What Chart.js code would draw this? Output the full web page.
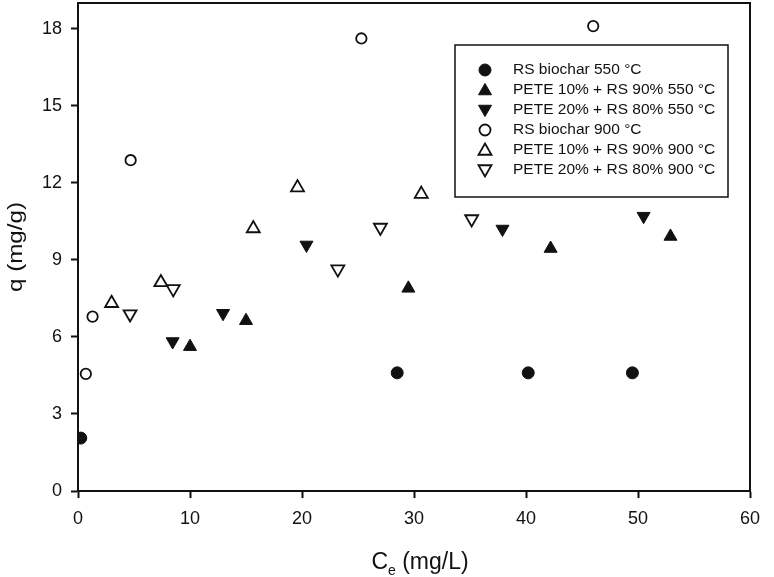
<!DOCTYPE html>
<html>
<head>
<meta charset="utf-8">
<script src="https://cdn.jsdelivr.net/npm/chart.js@4.4.1/dist/chart.umd.min.js"></script>
<style>
    html, body { margin: 0; padding: 0; background: #fff; }
    #wrap { width: 774px; height: 577px; }
</style>
</head>
<body>
<div id="wrap"><canvas id="myChart" width="774" height="577"></canvas></div>
<script>
// series: x = Ce (mg/L), y = q (mg/g)
var rs550X = [0.25, 28.5, 40.2, 49.5];
var rs550Y = [2.06, 4.6, 4.6, 4.6];

var pete10_550X = [10.0, 15.0, 29.5, 42.2, 52.9];
var pete10_550Y = [5.62, 6.63, 7.89, 9.44, 9.91];

var pete20_550X = [8.45, 12.95, 20.4, 37.9, 50.5];
var pete20_550Y = [5.82, 6.92, 9.58, 10.2, 10.7];

var rs900X = [0.7, 1.3, 4.7, 25.3, 46.0];
var rs900Y = [4.56, 6.79, 12.88, 17.62, 18.1];

var pete10_900X = [3.0, 7.4, 15.65, 19.6, 30.65];
var pete10_900Y = [7.31, 8.12, 10.22, 11.81, 11.56];

var pete20_900X = [4.65, 8.5, 23.2, 27.0, 35.15];
var pete20_900Y = [6.89, 7.87, 8.64, 10.26, 10.59];

var seriesLabels = [
    'RS biochar 550 °C',
    'PETE 10% + RS 90% 550 °C',
    'PETE 20% + RS 80% 550 °C',
    'RS biochar 900 °C',
    'PETE 10% + RS 90% 900 °C',
    'PETE 20% + RS 80% 900 °C'
];
var xTicks = [0, 10, 20, 30, 40, 50, 60];
var yTicks = [0, 3, 6, 9, 12, 15, 18];

var FONT = 'Arial, "Liberation Sans", sans-serif';
var INK = '#111';

function toPoints(xs, ys) {
    return xs.map((x, i) => ({ x: x, y: ys[i] }));
}

var styles = [
    { pointStyle: 'circle',   rotation: 0,   radius: 6,   fill: INK,    border: 1 },
    { pointStyle: 'triangle', rotation: 0,   radius: 7.5, fill: INK,    border: 1 },
    { pointStyle: 'triangle', rotation: 180, radius: 7.5, fill: INK,    border: 1 },
    { pointStyle: 'circle',   rotation: 0,   radius: 5.2, fill: '#fff', border: 1.8 },
    { pointStyle: 'triangle', rotation: 0,   radius: 7.5, fill: '#fff', border: 1.8 },
    { pointStyle: 'triangle', rotation: 180, radius: 7.5, fill: '#fff', border: 1.8 }
];

var allData = [
    toPoints(rs550X, rs550Y),
    toPoints(pete10_550X, pete10_550Y),
    toPoints(pete20_550X, pete20_550Y),
    toPoints(rs900X, rs900Y),
    toPoints(pete10_900X, pete10_900Y),
    toPoints(pete20_900X, pete20_900Y)
];

var datasets = allData.map((d, i) => ({
    label: seriesLabels[i],
    data: d,
    pointStyle: styles[i].pointStyle,
    rotation: styles[i].rotation,
    pointRadius: styles[i].radius,
    pointHoverRadius: styles[i].radius,
    backgroundColor: styles[i].fill,
    borderColor: INK,
    borderWidth: styles[i].border,
    showLine: false
}));

// draws marker shapes for the legend
function marker(ctx, st, x, y) {
    ctx.save();
    ctx.fillStyle = st.fill;
    ctx.strokeStyle = INK;
    ctx.lineWidth = st.border;
    ctx.beginPath();
    if (st.pointStyle === 'circle') {
        ctx.arc(x, y, st.radius, 0, Math.PI * 2);
    } else {
        var r = st.radius, rad = st.rotation * Math.PI / 180;
        for (var k = 0; k < 3; k++) {
            var px = x + Math.sin(rad) * r, py = y - Math.cos(rad) * r;
            if (k === 0) ctx.moveTo(px, py); else ctx.lineTo(px, py);
            rad += Math.PI * 2 / 3;
        }
        ctx.closePath();
    }
    ctx.fill();
    ctx.stroke();
    ctx.restore();
}

var framePlugin = {
    id: 'frame',
    afterDraw: function(chart) {
        var ctx = chart.ctx;
        var a = chart.chartArea;
        ctx.save();
        // box around plot
        ctx.strokeStyle = INK;
        ctx.lineWidth = 2;
        ctx.strokeRect(a.left, a.top, a.right - a.left, a.bottom - a.top);

        // y title
        ctx.fillStyle = INK;
        ctx.font = '21px ' + FONT;
        ctx.textAlign = 'center';
        ctx.textBaseline = 'middle';
        ctx.save();
        ctx.translate(16, (a.top + a.bottom) / 2);
        ctx.rotate(-Math.PI / 2);
        ctx.scale(1.15, 1);
        ctx.fillText('q (mg/g)', 0, 0);
        ctx.restore();

        // x title with subscript
        var cx = 420, by = 569;
        ctx.textBaseline = 'alphabetic';
        ctx.textAlign = 'left';
        ctx.font = '23px ' + FONT;
        var wC = ctx.measureText('C').width;
        ctx.font = '14px ' + FONT;
        var wE = ctx.measureText('e').width;
        ctx.font = '23px ' + FONT;
        var rest = ' (mg/L)';
        var wR = ctx.measureText(rest).width;
        var x0 = cx - (wC + wE + wR) / 2;
        ctx.fillText('C', x0, by);
        ctx.font = '14px ' + FONT;
        ctx.fillText('e', x0 + wC, by + 6);
        ctx.font = '23px ' + FONT;
        ctx.fillText(rest, x0 + wC + wE, by);

        // legend
        var lx = 455, ly = 45, lw = 273, lh = 152;
        ctx.fillStyle = '#fff';
        ctx.fillRect(lx, ly, lw, lh);
        ctx.lineWidth = 1.5;
        ctx.strokeRect(lx, ly, lw, lh);
        ctx.font = '15.5px ' + FONT;
        ctx.fillStyle = INK;
        ctx.textBaseline = 'middle';
        seriesLabels.forEach((lab, i) => {
            var yy = 70 + i * 20;
            var st = Object.assign({}, styles[i]);
            if (st.pointStyle === 'circle') st.radius = st.fill === INK ? 6 : 5.5;
            marker(ctx, st, 485, yy + (st.pointStyle === 'triangle' ? (st.rotation ? -1 : 1) : 0));
            ctx.fillStyle = INK;
            ctx.fillText(lab, 513, yy);
        });
        ctx.restore();
    }
};

var ctx = document.getElementById('myChart');

var myChart = new Chart(ctx, {
    type: 'scatter',
    data: { datasets: datasets },
    options: {
        responsive: false,
        animation: false,
        events: [],
        layout: { autoPadding: false, padding: { left: 0, top: 3, right: 24, bottom: 0 } },
        plugins: {
            legend: { display: false },
            tooltip: { enabled: false }
        },
        scales: {
            x: {
                type: 'linear',
                min: 0,
                max: 60,
                afterBuildTicks: function(scale) {
                    scale.ticks = xTicks.map(v => ({ value: v }));
                },
                afterFit: function(scale) {
                    scale.height = 86;
                    scale.paddingLeft = 0;
                    scale.paddingRight = 0;
                },
                grid: {
                    drawOnChartArea: false,
                    drawTicks: true,
                    tickLength: 7,
                    tickWidth: 2,
                    tickColor: INK
                },
                border: { display: true, color: INK, width: 2 },
                ticks: {
                    color: INK,
                    font: { family: FONT, size: 18 },
                    padding: 10,
                    maxRotation: 0
                }
            },
            y: {
                type: 'linear',
                min: 0,
                max: 19,
                afterBuildTicks: function(scale) {
                    scale.ticks = yTicks.map(v => ({ value: v }));
                },
                afterFit: function(scale) {
                    scale.width = 78;
                    scale.paddingTop = 0;
                    scale.paddingBottom = 0;
                },
                grid: {
                    drawOnChartArea: false,
                    drawTicks: true,
                    tickLength: 7,
                    tickWidth: 2,
                    tickColor: INK
                },
                border: { display: true, color: INK, width: 2 },
                ticks: {
                    color: INK,
                    font: { family: FONT, size: 18 },
                    padding: 9
                }
            }
        }
    },
    plugins: [framePlugin]
});
</script>
</body>
</html>
